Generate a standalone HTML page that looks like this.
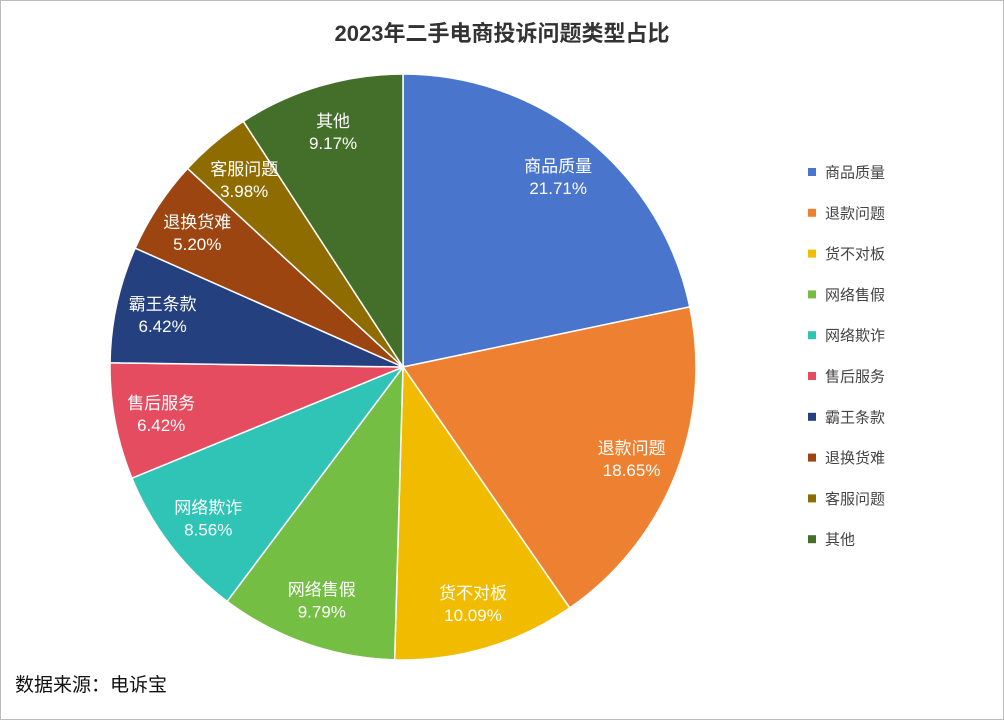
<!DOCTYPE html>
<html><head><meta charset="utf-8"><style>
body{margin:0;background:#fff}
#wrap{position:relative;width:1002px;height:718px;border:1px solid #bbb;overflow:hidden;font-family:"Liberation Sans","Noto Sans CJK SC",sans-serif}
</style></head><body>
<div id="wrap">
<svg id="chart" width="1002" height="718">
<text x="501" y="40" text-anchor="middle" font-size="22" font-weight="bold" fill="#333">2023年二手电商投诉问题类型占比</text>
<text x="14" y="690" font-size="19" fill="#111">数据来源：电诉宝</text>
<g id="slices"></g><g id="labels"></g><g id="legend"></g>
</svg>
</div>
<script>
const categories=["商品质量","退款问题","货不对板","网络售假","网络欺诈","售后服务","霸王条款","退换货难","客服问题","其他"];
const values=[21.71,18.65,10.09,9.79,8.56,6.42,6.42,5.20,3.98,9.17];
const colors=["#4a75cd","#ee8131","#f1bb00","#75be44","#2fc4b6","#e64c60","#24407f","#9c4511","#8f6c00","#436f2a"];
const NS="http://www.w3.org/2000/svg";
const cx=402,cy=366,R=293;
const total=values.reduce((a,b)=>a+b,0);
const sg=document.getElementById('slices'),lg=document.getElementById('labels'),leg=document.getElementById('legend');
function pt(a,r){return [cx+r*Math.sin(a),cy-r*Math.cos(a)];}
let acc=0;
values.forEach((v,i)=>{
  const a0=acc/total*2*Math.PI;acc+=v;const a1=acc/total*2*Math.PI;
  const p0=pt(a0,R),p1=pt(a1,R);
  const p=document.createElementNS(NS,'path');
  p.setAttribute('d',`M${cx},${cy}L${p0[0]},${p0[1]}A${R},${R} 0 ${a1-a0>Math.PI?1:0} 1 ${p1[0]},${p1[1]}Z`);
  p.setAttribute('fill',colors[i]);p.setAttribute('stroke','#fff');p.setAttribute('stroke-width','1.5');
  
  
  sg.appendChild(p);
  const m=pt((a0+a1)/2,R*0.84);
  const t=document.createElementNS(NS,'text');
  t.setAttribute('text-anchor','middle');t.setAttribute('fill','#fff');t.setAttribute('font-size','17');
  
  
  const s1=document.createElementNS(NS,'tspan');s1.setAttribute('x',m[0]);s1.setAttribute('y',m[1]-4);s1.textContent=categories[i];
  const s2=document.createElementNS(NS,'tspan');s2.setAttribute('x',m[0]);s2.setAttribute('y',m[1]+18);s2.textContent=v.toFixed(2)+'%';
  t.appendChild(s1);t.appendChild(s2);lg.appendChild(t);
  const y=171+i*40.8;
  const g=document.createElementNS(NS,'g');
  
  
  const r=document.createElementNS(NS,'rect');r.setAttribute('x',807);r.setAttribute('y',y-4);r.setAttribute('width',8);r.setAttribute('height',8);r.setAttribute('fill',colors[i]);
  const lt=document.createElementNS(NS,'text');lt.setAttribute('x',824);lt.setAttribute('y',y+5.5);lt.setAttribute('font-size','15');lt.setAttribute('fill','#444');lt.textContent=categories[i];
  g.appendChild(r);g.appendChild(lt);leg.appendChild(g);
});
</script>
</body></html>
